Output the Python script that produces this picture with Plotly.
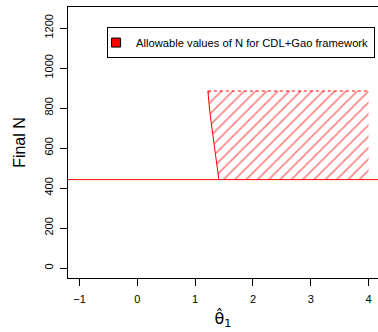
import plotly.graph_objects as go

# data
threshold_N = 442
upper_N = 885
theta_max = 4.0
curve_theta = [1.41, 1.37, 1.33, 1.29, 1.25, 1.22]
curve_N = [442, 520, 610, 700, 790, 885]
x_ticks = [-1, 0, 1, 2, 3, 4]
y_ticks = [0, 200, 400, 600, 800, 1000, 1200]
legend_label = "Allowable values of N for CDL+Gao framework"

RED = "#FF0000"
FONT = "Liberation Sans, Arial, Helvetica, sans-serif"

fig = go.Figure()

# hatched region polygon
poly_x = curve_theta + [theta_max, theta_max]
poly_y = curve_N + [upper_N, threshold_N]
fig.add_trace(go.Scatter(
    x=poly_x, y=poly_y, mode="lines", fill="toself",
    line=dict(width=0, color=RED),
    fillcolor="rgba(0,0,0,0)",
    fillpattern=dict(shape="/", fgcolor=RED, bgcolor="rgba(255,255,255,0)",
                     size=8, solidity=0.2, fillmode="overlay"),
    showlegend=False, hoverinfo="skip"))

# left boundary curve
fig.add_trace(go.Scatter(x=curve_theta, y=curve_N, mode="lines",
                         line=dict(color=RED, width=1), showlegend=False))
# top dashed edge
fig.add_trace(go.Scatter(x=[curve_theta[-1], theta_max], y=[upper_N, upper_N], mode="lines",
                         line=dict(color=RED, width=1, dash="3px,3px"), showlegend=False))

# horizontal line at threshold
fig.add_hline(y=threshold_N, line=dict(color=RED, width=1))

# legend entry
fig.add_trace(go.Scatter(x=[None], y=[None], mode="markers", name=legend_label,
                         marker=dict(symbol="square", size=9, color=RED,
                                     line=dict(color="black", width=1))))

fig.update_layout(
    width=378, height=332,
    margin=dict(l=68, r=0, t=7, b=54, autoexpand=False),
    paper_bgcolor="white", plot_bgcolor="white",
    font=dict(family=FONT, size=11, color="black"),
    showlegend=True,
    legend=dict(x=0.126, y=0.926, xanchor="left", yanchor="top",
                bordercolor="black", borderwidth=1, bgcolor="white",
                font=dict(size=11.2), itemwidth=30, indentation=-12,
                tracegroupgap=0),
)

fig.update_xaxes(range=[-1.2, -1.2 + 310 / 57.8], tickvals=x_ticks,
                 ticktext=["\u22121", "0", "1", "2", "3", "4"],
                 showgrid=False, zeroline=False, automargin=False,
                 showline=True, linecolor="black", linewidth=1, mirror=True,
                 ticks="outside", ticklen=7, tickcolor="black", ticklabelstandoff=4,
                 title=dict(text="\u03b8\u0302<sub>1</sub>",
                            font=dict(size=16, family="DejaVu Sans"), standoff=8))
fig.update_yaxes(range=[-50, -50 + 271 / 0.2], tickvals=y_ticks,
                 showgrid=False, zeroline=False, automargin=False,
                 showline=True, linecolor="black", linewidth=1, mirror=False,
                 ticks="outside", ticklen=7, tickcolor="black", tickangle=-90,
                 ticklabelstandoff=3,
                 title=dict(text="Final N", font=dict(size=16), standoff=12))

fig.write_html("out.html", config={"displayModeBar": False},
               post_script="document.body.style.margin='0';document.body.style.padding='0';")
